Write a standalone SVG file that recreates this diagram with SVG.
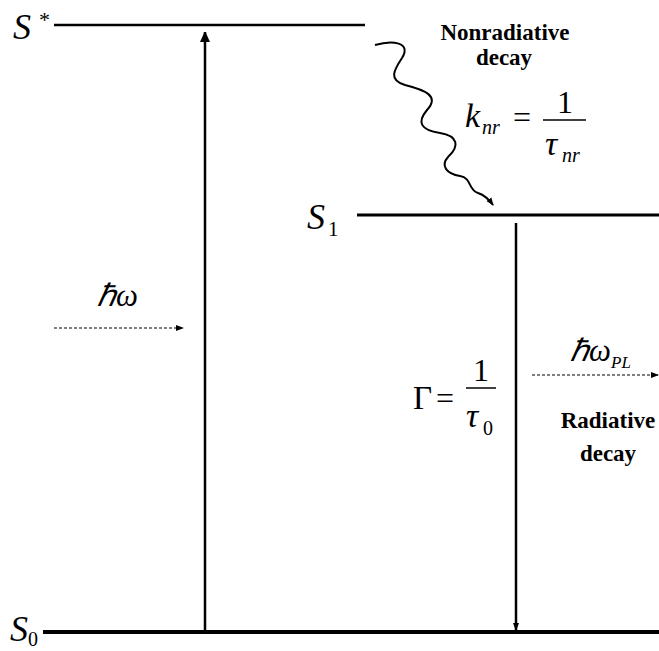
<svg xmlns="http://www.w3.org/2000/svg" width="659" height="651" viewBox="0 0 659 651">
<style>
.lvl{stroke:#000;fill:none}
text{font-family:"Liberation Serif","Times New Roman",serif;fill:#000}
.m{font-style:italic}
.b{font-weight:bold;font-size:23px;text-anchor:middle}
.ar{stroke:#000;fill:none}
.dash{stroke:#000;stroke-width:1.1;stroke-dasharray:3 2;fill:none}
</style>
<defs>
<marker id="hd" markerWidth="10" markerHeight="12" refX="10" refY="6" orient="auto" markerUnits="userSpaceOnUse">
<path d="M0,1 L11,6 L0,11 Z" fill="#000"/>
</marker>
<marker id="hs" markerWidth="8" markerHeight="8" refX="7" refY="4" orient="auto" markerUnits="userSpaceOnUse">
<path d="M0,1 L8,4 L0,7 Z" fill="#000"/>
</marker>
</defs>
<rect width="659" height="651" fill="#fff"/>
<g id="S-star">
<line class="lvl" x1="54" y1="25" x2="365" y2="25" stroke-width="2.5"/>
<text class="m" x="13" y="39" font-size="36" font-family="Liberation Serif">S</text>
<text x="39" y="27" font-size="22" font-family="Liberation Serif">*</text>
</g>
<g id="S1">
<line class="lvl" x1="357" y1="215" x2="659" y2="215" stroke-width="3"/>
<text class="m" x="307" y="229" font-size="36" font-family="Liberation Serif">S</text>
<text x="328" y="236" font-size="21" font-family="Liberation Serif">1</text>
</g>
<g id="S0">
<line class="lvl" x1="43" y1="632" x2="659" y2="632" stroke-width="4"/>
<text class="m" x="10" y="641" font-size="36" font-family="Liberation Serif">S</text>
<text x="28" y="646" font-size="20" font-family="Liberation Serif">0</text>
</g>
<g id="nonrad-label">
<text class="b" x="505" y="40" font-family="Liberation Serif">Nonradiative</text>
<text class="b" x="504" y="65" font-family="Liberation Serif">decay</text>
<text class="m" x="465" y="127" font-size="34" font-family="Liberation Serif">k</text>
<text class="m" x="482" y="134" font-size="20" font-family="Liberation Serif">nr</text>
<text x="513" y="128" font-size="32" font-family="Liberation Serif">=</text>
<line x1="543" y1="120" x2="586" y2="120" stroke="#000" stroke-width="1.5"/>
<text x="565" y="113" font-size="32" text-anchor="middle" font-family="Liberation Serif">1</text>
<text class="m" x="545" y="155" font-size="34" font-family="Liberation Serif">τ</text>
<text class="m" x="562" y="162" font-size="20" font-family="Liberation Serif">nr</text>
</g>
<g id="rad-label">
<text x="413" y="409" font-size="33" font-family="Liberation Serif">Γ</text>
<text x="436" y="409" font-size="32" font-family="Liberation Serif">=</text>
<line x1="466" y1="388" x2="496" y2="388" stroke="#000" stroke-width="1.5"/>
<text x="481" y="381" font-size="32" text-anchor="middle" font-family="Liberation Serif">1</text>
<text class="m" x="466" y="427" font-size="34" font-family="Liberation Serif">τ</text>
<text x="483" y="435" font-size="20" font-family="Liberation Serif">0</text>
<text class="b" x="608" y="428" font-family="Liberation Serif">Radiative</text>
<text class="b" x="608" y="461" font-family="Liberation Serif">decay</text>
</g>
<g id="photon-in">
<text class="m" x="97" y="306" font-size="31" font-family="Liberation Serif">ℏω</text>
</g>
<g id="photon-out">
<text class="m" x="570" y="361" font-size="31" font-family="Liberation Serif">ℏω</text>
<text class="m" x="611" y="368" font-size="17" font-family="Liberation Serif">PL</text>
</g>
<g id="connectors">
<line class="ar" x1="205" y1="632" x2="205" y2="32" stroke-width="2.5" marker-end="url(#hd)"/>
<line class="ar" x1="516" y1="223" x2="516" y2="630" stroke-width="2.5" marker-end="url(#hs)"/>
<line class="dash" x1="54" y1="328" x2="183" y2="328" marker-end="url(#hs)"/>
<line class="dash" x1="532" y1="375" x2="658" y2="375" marker-end="url(#hs)"/>
<path class="ar" stroke-width="2" d="M375,45 C392,40 412,42 402,58 C394,70 388,80 405,85 C425,90 440,96 427,110 C417,122 420,130 440,133 C458,136 460,146 448,157 C440,166 447,174 460,176 C472,178 468,190 478,193 C484,195 488,198 493,205" marker-end="url(#hs)"/>
</g>
</svg>
